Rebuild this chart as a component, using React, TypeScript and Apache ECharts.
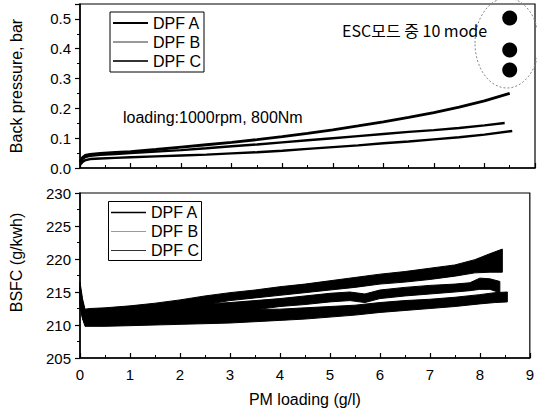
import React, { useEffect, useRef } from "react";
import * as echarts from "echarts";

// ---- Top panel: back pressure (bar) vs PM loading (g/l)
const xTopA = [0, 0.05, 0.1, 0.2, 0.4, 0.7, 1, 1.5, 2, 2.5, 3, 3.5, 4, 4.5, 5, 5.5, 6, 6.5, 7, 7.5, 8, 8.5];
const bpA = [0.02, 0.035, 0.042, 0.046, 0.049, 0.052, 0.055, 0.062, 0.07, 0.078, 0.086, 0.095, 0.105, 0.116, 0.128, 0.141, 0.155, 0.17, 0.186, 0.204, 0.225, 0.25];
const xTopB = [0, 0.05, 0.1, 0.2, 0.4, 0.7, 1, 1.5, 2, 2.5, 3, 3.5, 4, 4.5, 5, 5.5, 6, 6.5, 7, 7.5, 8, 8.4];
const bpB = [0.018, 0.03, 0.037, 0.041, 0.044, 0.047, 0.05, 0.055, 0.06, 0.066, 0.073, 0.079, 0.086, 0.093, 0.1, 0.107, 0.114, 0.121, 0.127, 0.134, 0.143, 0.151];
const xTopC = [0, 0.05, 0.1, 0.2, 0.4, 0.7, 1, 1.5, 2, 2.5, 3, 3.5, 4, 4.5, 5, 5.5, 6, 6.5, 7, 7.5, 8, 8.55];
const bpC = [0.01, 0.02, 0.026, 0.03, 0.032, 0.034, 0.036, 0.039, 0.042, 0.045, 0.049, 0.053, 0.058, 0.064, 0.07, 0.076, 0.083, 0.089, 0.096, 0.103, 0.112, 0.124];
// ESC 10-mode points (annotation dots)
const modeX = [8.5, 8.5, 8.5];
const modeY = [0.503, 0.396, 0.329];

// ---- Bottom panel: BSFC (g/kWh) noise bands (lower / upper edges)
const xBotA = [0, 0.05, 0.1, 0.2, 0.5, 1, 1.5, 2, 2.5, 3, 3.5, 4, 4.5, 5, 5.5, 6, 6.5, 7, 7.5, 7.9, 8.2, 8.45];
const aLow = [213.5, 211.2, 210.2, 210.2, 210.5, 211, 211.6, 212.4, 213.1, 213.7, 214.1, 214.5, 214.9, 215.3, 215.7, 216.2, 216.5, 216.9, 217.4, 217.9, 218, 218];
const aHigh = [216.5, 214, 212.4, 212.5, 212.6, 212.9, 213.3, 213.8, 214.4, 214.9, 215.3, 215.8, 216.2, 216.7, 217.2, 217.7, 218.1, 218.6, 219.1, 219.9, 220.8, 221.5];
const xBotB = [0, 0.05, 0.1, 0.2, 0.5, 1, 1.5, 2, 2.5, 3, 3.5, 4, 4.5, 5, 5.4, 5.7, 6, 6.5, 7, 7.5, 7.8, 8.0, 8.2, 8.4];
const bLow = [213.5, 211, 210.1, 210.1, 210.2, 210.4, 210.7, 211, 211.4, 211.8, 212.3, 212.8, 213.1, 213.5, 213.7, 213.4, 214, 214.4, 214.7, 215, 215.2, 215.4, 215.4, 214.9];
const bHigh = [216, 213.6, 212.2, 212.3, 212.4, 212.5, 212.8, 213, 213.2, 213.4, 213.7, 214, 214.4, 214.8, 215, 214.7, 215.3, 215.7, 216, 216.2, 216.4, 217.1, 217, 216.6];
const xBotC = [0, 0.05, 0.1, 0.2, 0.5, 1, 1.5, 2, 2.5, 3, 3.5, 4, 4.5, 5, 5.5, 6, 6.5, 7, 7.5, 8, 8.3, 8.55];
const cLow = [213, 211, 209.8, 209.8, 209.8, 209.9, 210, 210.1, 210.2, 210.3, 210.5, 210.7, 210.9, 211.2, 211.5, 211.9, 212.2, 212.5, 212.8, 213.2, 213.4, 213.5];
const cHigh = [215.5, 213.2, 211.8, 211.8, 211.8, 211.9, 212, 212.1, 212.2, 212.3, 212.35, 212.4, 212.6, 212.8, 213, 213.4, 213.7, 213.9, 214.2, 214.6, 214.9, 215];

const seriesNames = ["DPF A", "DPF B", "DPF C"];
const legendColors = ["#000", "#999", "#333"];
const legendWidths = [1.5, 1, 1];

const FONT = "'Liberation Sans', Arial, sans-serif";

const zip = (xs: number[], ys: number[]) => xs.map((x, i) => [x, ys[i]]);

export default function App() {
  const ref = useRef<HTMLDivElement>(null);
  useEffect(() => {
    if (!ref.current) return;
    const chart = echarts.init(ref.current, null, { renderer: "svg" });
    const axisLineStyle = { color: "#000", width: 1.5 };
    const labelStyle = { color: "#000", fontSize: 15, fontFamily: FONT };
    const nameStyle = { color: "#000", fontSize: 16, fontFamily: FONT };
    const xAxisBase = {
      type: "value",
      min: 0,
      max: 9,
      interval: 1,
      axisLine: { onZero: false, lineStyle: axisLineStyle },
      axisTick: { inside: true, length: 5, lineStyle: { color: "#000", width: 1.2 } },
      minorTick: { show: true, splitNumber: 2, length: 3, lineStyle: { color: "#000" } },
      splitLine: { show: false },
    };
    const yAxisBase = {
      type: "value",
      axisLine: { show: true, onZero: false, lineStyle: axisLineStyle },
      axisTick: { inside: false, length: 5, lineStyle: { color: "#000", width: 1.2 } },
      minorTick: { show: true, splitNumber: 2, length: 3, lineStyle: { color: "#000" } },
      splitLine: { show: false },
      nameLocation: "middle",
      nameGap: 56,
      nameTextStyle: nameStyle,
    };
    const lineTop = (name: string, xs: number[], ys: number[], w: number) => ({
      name,
      type: "line",
      xAxisIndex: 0,
      yAxisIndex: 0,
      showSymbol: false,
      data: zip(xs, ys),
      itemStyle: { color: "#000" },
      lineStyle: { color: "#000", width: w },
    });
    const band = (name: string, xs: number[], lo: number[], hi: number[]) => ({
      name: name + " (BSFC)",
      type: "custom",
      xAxisIndex: 1,
      yAxisIndex: 1,
      coordinateSystem: "cartesian2d",
      itemStyle: { color: "#000" },
      encode: { x: 0, y: [1, 2] },
      data: xs.map((x, i) => [x, lo[i], hi[i]]),
      renderItem: (params: any, api: any) => {
        if (params.dataIndex !== 0) return null;
        const pts: number[][] = [];
        for (let i = 0; i < xs.length; i++) pts.push(api.coord([xs[i], hi[i]]));
        for (let i = xs.length - 1; i >= 0; i--) pts.push(api.coord([xs[i], lo[i]]));
        return {
          type: "polygon",
          shape: { points: pts },
          style: { fill: "#000", stroke: "#000", lineWidth: 1 },
        };
      },
    });
    // bottom legend (drawn as a graphic group)
    const botLegend: any[] = [
      {
        type: "rect",
        shape: { x: 108.5, y: 201.5, width: 93, height: 59 },
        style: { fill: "#fff", stroke: "#000", lineWidth: 1 },
        z: 20,
      },
    ];
    seriesNames.forEach((n, i) => {
      const cy = 212.5 + i * 19;
      botLegend.push({
        type: "line",
        shape: { x1: 111, y1: cy, x2: 146, y2: cy },
        style: { stroke: legendColors[i], lineWidth: legendWidths[i] },
        z: 21,
      });
      botLegend.push({
        type: "text",
        x: 151,
        y: cy,
        style: { text: n, fill: "#000", font: "16px 'Liberation Sans', Arial, sans-serif", verticalAlign: "middle" },
        z: 21,
      });
    });
    chart.setOption({
      animation: false,
      backgroundColor: "#fff",
      grid: [
        { left: 80, right: 2, top: 4, height: 164, show: true, borderColor: "#000", borderWidth: 1.2, backgroundColor: "transparent" },
        { left: 80, right: 2, top: 193, height: 165, show: true, borderColor: "#000", borderWidth: 1.2, backgroundColor: "transparent" },
      ],
      legend: {
        orient: "vertical",
        left: 110,
        top: 12,
        icon: "rect",
        itemWidth: 35,
        itemHeight: 2,
        itemGap: 3,
        padding: [3, 3, 3, 3],
        borderColor: "#000",
        borderWidth: 1,
        backgroundColor: "#fff",
        textStyle: { color: "#000", fontSize: 16, fontFamily: FONT },
        data: seriesNames.map((n, i) => ({
          name: n,
          itemStyle: { color: legendColors[i] },
          lineStyle: { color: legendColors[i], width: legendWidths[i] },
        })),
        selectedMode: false,
      },
      xAxis: [
        { ...xAxisBase, gridIndex: 0, axisLabel: { show: false } },
        {
          ...xAxisBase,
          gridIndex: 1,
          axisLabel: { ...labelStyle, margin: 9 },
          name: "PM loading (g/l)",
          nameLocation: "middle",
          nameGap: 33,
          nameTextStyle: nameStyle,
        },
      ],
      yAxis: [
        {
          ...yAxisBase,
          gridIndex: 0,
          min: 0,
          max: 0.55,
          interval: 0.1,
          name: "Back pressure, bar",
          axisLabel: { ...labelStyle, margin: 9, showMaxLabel: false, formatter: (v: number) => v.toFixed(1) },
        },
        {
          ...yAxisBase,
          gridIndex: 1,
          min: 205,
          max: 230,
          interval: 5,
          name: "BSFC (g/kwh)",
          nameTextStyle: { ...nameStyle, padding: [0, 0, 0, 26] },
          axisLabel: { ...labelStyle, margin: 9 },
        },
      ],
      series: [
        lineTop(seriesNames[0], xTopA, bpA, 2.8),
        lineTop(seriesNames[1], xTopB, bpB, 2.4),
        lineTop(seriesNames[2], xTopC, bpC, 2.4),
        {
          name: "ESC 10 mode",
          type: "scatter",
          xAxisIndex: 0,
          yAxisIndex: 0,
          symbolSize: 15,
          itemStyle: { color: "#000", opacity: 1 },
          data: zip(modeX, modeY),
          z: 5,
        },
        band(seriesNames[0], xBotA, aLow, aHigh),
        band(seriesNames[1], xBotB, bLow, bHigh),
        band(seriesNames[2], xBotC, cLow, cHigh),
      ],
      graphic: [
        {
          type: "ellipse",
          shape: { cx: 507, cy: 43, rx: 32, ry: 45 },
          style: { fill: "none", stroke: "#888", lineWidth: 1, lineDash: [2, 2] },
          z: 10,
        },
        {
          type: "text",
          x: 342,
          y: 30,
          style: {
            text: "ESC모드 중 10 mode",
            fill: "#000",
            font: "16px 'Noto Sans CJK KR', sans-serif",
            verticalAlign: "middle",
          },
          z: 10,
        },
        {
          type: "text",
          x: 123,
          y: 117,
          style: {
            text: "loading:1000rpm, 800Nm",
            fill: "#000",
            font: "16px 'Liberation Sans', Arial, sans-serif",
            verticalAlign: "middle",
          },
          z: 10,
        },
        ...botLegend,
      ],
    });
    return () => chart.dispose();
  }, []);
  return (
    <div
      ref={ref}
      style={{ position: "fixed", left: 0, top: 0, width: 537, height: 419, background: "#fff" }}
    />
  );
}
